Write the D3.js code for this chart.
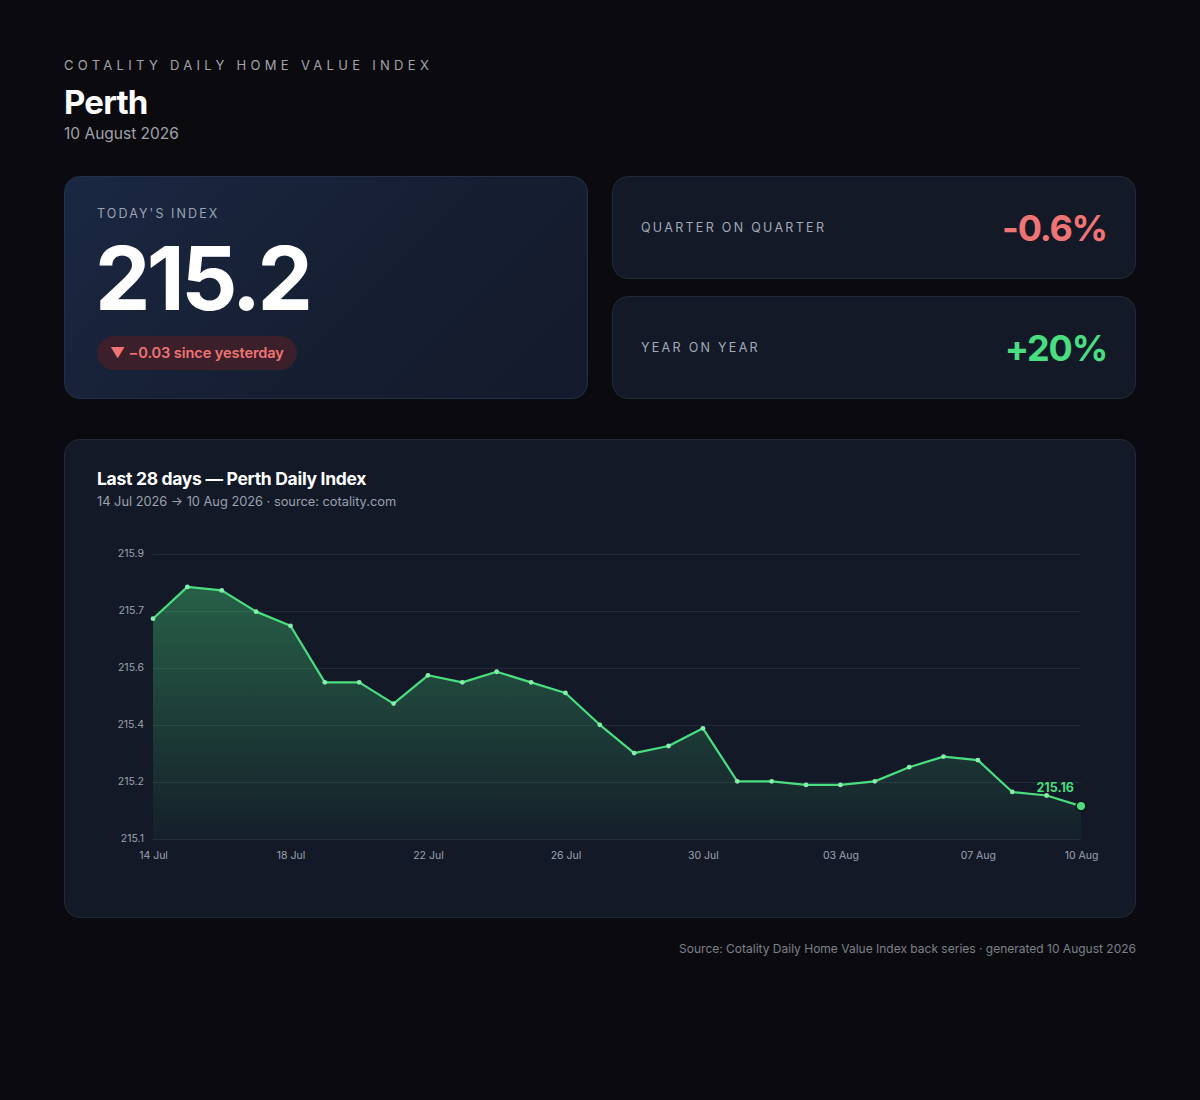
<!DOCTYPE html>
<html>
<head>
<meta charset="utf-8">
<script src="https://cdn.jsdelivr.net/npm/d3@7"></script>
<style>
  * { box-sizing: border-box; margin: 0; padding: 0; }
  body {
    width: 1200px; height: 1100px; background: #0b0b0f;
    font-family: Inter, "Noto Sans", sans-serif; color: #fff;
    position: relative; overflow: hidden;
  }
  .eyebrow { position: absolute; left: 64px; top: 57px; font-size: 13px; letter-spacing: 4.3px; color: #a3a3ab; }
  .city { position: absolute; left: 64px; top: 82px; font-size: 33px; font-weight: 700; letter-spacing: -0.8px; }
  .date { position: absolute; left: 64px; top: 124px; font-size: 15.5px; color: #a1a1aa; }
  .card { position: absolute; border-radius: 16px; border: 1px solid #222a39; background: #131927; }
  .card.today { left: 64px; top: 176px; width: 524px; height: 223px; background: linear-gradient(135deg, #1b2843 0%, #161f33 50%, #131a2b 100%); border-color: #243049; }
  .kpi-label { font-size: 12.5px; letter-spacing: 2.3px; color: #a2aab8; }
  .today .kpi-label { position: absolute; left: 32px; top: 29px; color: #9aa3b3; letter-spacing: 2.1px; }
  .big { position: absolute; left: 30px; top: 49px; font-size: 88px; font-weight: 700; letter-spacing: -3.6px; line-height: 1.2; }
  .badge { position: absolute; left: 32px; top: 159px; height: 34px; padding: 0 13px; border-radius: 17px; background: #3b1f2a; color: #f07474; font-size: 14.6px; font-weight: 600; line-height: 34px; letter-spacing: -0.1px; }
  .card.small { left: 612px; width: 524px; height: 103px; }
  .small .kpi-label { position: absolute; left: 28px; top: 43px; }
  .small .val { position: absolute; right: 28px; top: 29px; font-size: 36px; font-weight: 700; letter-spacing: -1.2px; }
  .card.chart { left: 64px; top: 439px; width: 1072px; height: 479px; }
  .chart-title { position: absolute; left: 32px; top: 28px; font-size: 17.5px; font-weight: 700; letter-spacing: -0.3px; }
  .chart-sub { position: absolute; left: 32px; top: 54px; font-size: 12.8px; color: #9ba1ad; }
  .chart svg { position: absolute; left: 0; top: 0; }
  .footer { position: absolute; right: 64px; top: 941px; font-size: 12px; color: #7b808b; }
</style>
</head>
<body>
<script>
// ---- data ----
const city = 'Perth';
const reportDate = '10 August 2026';
const dates = [
  '2026-07-14', '2026-07-15', '2026-07-16', '2026-07-17', '2026-07-18', '2026-07-19', '2026-07-20',
  '2026-07-21', '2026-07-22', '2026-07-23', '2026-07-24', '2026-07-25', '2026-07-26', '2026-07-27',
  '2026-07-28', '2026-07-29', '2026-07-30', '2026-07-31', '2026-08-01', '2026-08-02', '2026-08-03',
  '2026-08-04', '2026-08-05', '2026-08-06', '2026-08-07', '2026-08-08', '2026-08-09', '2026-08-10'
];
const values = [
  215.69, 215.78, 215.77, 215.71, 215.67, 215.51, 215.51,
  215.45, 215.53, 215.51, 215.54, 215.51, 215.48, 215.39,
  215.31, 215.33, 215.38, 215.23, 215.23, 215.22, 215.22,
  215.23, 215.27, 215.30, 215.29, 215.20, 215.19, 215.16
];
const xTickDates = ['2026-07-14', '2026-07-18', '2026-07-22', '2026-07-26', '2026-07-30', '2026-08-03', '2026-08-07', '2026-08-10'];
const kpiLabels = ['QUARTER ON QUARTER', 'YEAR ON YEAR'];
const kpiValues = ['-0.6%', '+20%'];
const kpiColors = ['#f07474', '#4ade80'];

const parse = d3.timeParse('%Y-%m-%d');
const data = dates.map((d, i) => ({ date: parse(d), value: values[i] }));
const last = data[data.length - 1];
const prev = data[data.length - 2];

const body = d3.select('body');

// ---- header ----
body.append('div').attr('class', 'eyebrow').text('COTALITY DAILY HOME VALUE INDEX');
body.append('div').attr('class', 'city').text(city);
body.append('div').attr('class', 'date').text(reportDate);

// ---- today card ----
const today = body.append('div').attr('class', 'card today');
today.append('div').attr('class', 'kpi-label').text("TODAY'S INDEX");
today.append('div').attr('class', 'big').text(last.value.toFixed(1));
const diff = last.value - prev.value;
today.append('div').attr('class', 'badge')
  .text(`${diff < 0 ? '▼' : '▲'} ${diff < 0 ? '−' : '+'}${Math.abs(diff).toFixed(2)} since yesterday`);

// ---- small KPI cards ----
kpiLabels.forEach((label, i) => {
  const c = body.append('div').attr('class', 'card small').style('top', `${176 + i * 120}px`);
  c.append('div').attr('class', 'kpi-label').text(label);
  c.append('div').attr('class', 'val').style('color', kpiColors[i]).text(kpiValues[i]);
});

// ---- chart card ----
const card = body.append('div').attr('class', 'card chart');
card.append('div').attr('class', 'chart-title').text(`Last 28 days — ${city} Daily Index`);
card.append('div').attr('class', 'chart-sub').text('14 Jul 2026 → 10 Aug 2026 · source: cotality.com');

const width = 1072;
const height = 479;
const margin = { top: 114, right: 56, bottom: 80, left: 88 };

const svg = card.append('svg').attr('width', width).attr('height', height);

const [minV, maxV] = d3.extent(values);
const pad = (maxV - minV) * 0.15;

const x = d3.scaleTime()
  .domain(d3.extent(data, d => d.date))
  .range([margin.left, width - margin.right]);

const y = d3.scaleLinear()
  .domain([minV - pad, maxV + pad])
  .range([height - margin.bottom, margin.top]);

const yTicks = d3.range(6).map(i => y.domain()[0] + i * (y.domain()[1] - y.domain()[0]) / 5);

const defs = svg.append('defs');
const grad = defs.append('linearGradient')
  .attr('id', 'areaFill').attr('x1', 0).attr('y1', 0).attr('x2', 0).attr('y2', 1);
grad.append('stop').attr('offset', '0%').attr('stop-color', '#4ade80').attr('stop-opacity', 0.36);
grad.append('stop').attr('offset', '100%').attr('stop-color', '#4ade80').attr('stop-opacity', 0.03);

// grid + y axis
const yAxis = d3.axisLeft(y)
  .tickValues(yTicks)
  .tickFormat(d3.format('.1f'))
  .tickSize(-(width - margin.left - margin.right))
  .tickPadding(9);

svg.append('g')
  .attr('transform', `translate(${margin.left},0)`)
  .call(yAxis)
  .call(g => g.select('.domain').remove())
  .call(g => g.selectAll('.tick line').attr('stroke', '#222b38').attr('stroke-width', 1))
  .call(g => g.selectAll('.tick text')
    .attr('fill', '#9ca3af').attr('font-size', 10.5).attr('font-family', 'Inter, sans-serif').attr('dy', '0.2em'));

// x axis
const xAxis = d3.axisBottom(x)
  .tickValues(xTickDates.map(parse))
  .tickSize(0)
  .tickPadding(13);

svg.append('g')
  .attr('transform', `translate(0,${height - margin.bottom})`)
  .call(xAxis)
  .call(g => g.select('.domain').remove())
  .call(g => g.selectAll('.tick text')
    .attr('fill', '#9ca3af').attr('font-size', 10.5).attr('font-family', 'Inter, sans-serif')
    .text((d, i) => i === 0 ? d3.timeFormat('%-d %b')(d) : d3.timeFormat('%d %b')(d)));

// area + line
const area = d3.area()
  .x(d => x(d.date))
  .y0(y.range()[0])
  .y1(d => y(d.value));

const line = d3.line()
  .x(d => x(d.date))
  .y(d => y(d.value));

svg.append('path')
  .datum(data)
  .attr('fill', 'url(#areaFill)')
  .attr('d', area);

svg.append('path')
  .datum(data)
  .attr('fill', 'none')
  .attr('stroke', '#4ade80')
  .attr('stroke-width', 2.2)
  .attr('stroke-linejoin', 'round')
  .attr('d', line);

svg.selectAll('.dot')
  .data(data.slice(0, -1))
  .enter().append('circle')
  .attr('class', 'dot')
  .attr('cx', d => x(d.date))
  .attr('cy', d => y(d.value))
  .attr('r', 2.4)
  .attr('fill', '#86efac');

svg.append('circle')
  .attr('cx', x(last.date))
  .attr('cy', y(last.value))
  .attr('r', 4.8)
  .attr('fill', '#4ade80')
  .attr('stroke', '#0b0f17')
  .attr('stroke-width', 1.5);

svg.append('text')
  .attr('x', x(last.date) - 7)
  .attr('y', y(last.value) - 14)
  .attr('text-anchor', 'end')
  .attr('fill', '#4ade80')
  .attr('font-size', 12.5)
  .attr('font-weight', 700)
  .attr('font-family', 'Inter, sans-serif')
  .text(last.value.toFixed(2));

// ---- footer ----
body.append('div').attr('class', 'footer')
  .text(`Source: Cotality Daily Home Value Index back series · generated ${reportDate}`);
</script>
</body>
</html>
